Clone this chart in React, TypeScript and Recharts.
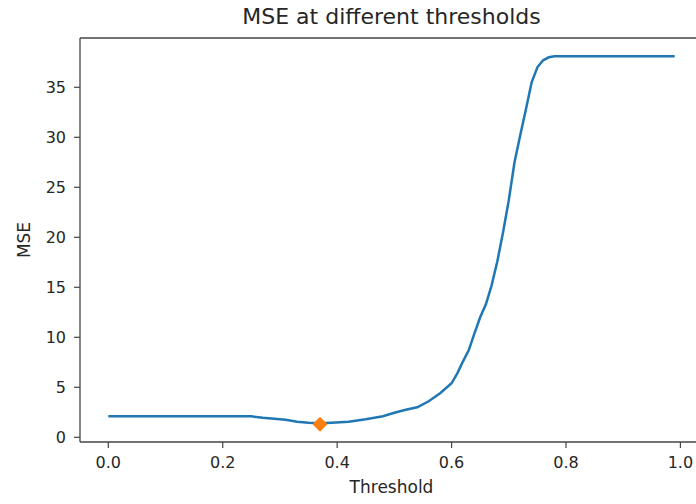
import React from 'react';
import { ComposedChart, Line, Scatter, XAxis, YAxis, ReferenceLine } from 'recharts';

// threshold values and the MSE
const THRESHOLDS = [
  0.0, 0.25, 0.27, 0.3, 0.31, 0.33, 0.35, 0.37, 0.39, 0.42, 0.45, 0.48, 0.5, 0.52, 0.54, 0.56,
  0.58, 0.6, 0.61, 0.62, 0.63, 0.64, 0.65, 0.66, 0.67, 0.68, 0.69, 0.7, 0.71, 0.72, 0.73, 0.74,
  0.75, 0.76, 0.77, 0.78, 0.99,
];
const MSE_VALUES = [
  2.1, 2.1, 1.95, 1.8, 1.75, 1.55, 1.45, 1.4, 1.45, 1.55, 1.8, 2.1, 2.45, 2.75, 3.0, 3.6,
  4.4, 5.4, 6.4, 7.6, 8.7, 10.4, 12.0, 13.3, 15.2, 17.6, 20.5, 23.7, 27.5, 30.2, 32.8, 35.5,
  37.0, 37.7, 38.0, 38.1, 38.1,
];

const BEST_THRESHOLD = 0.37;
const BEST_MSE = 1.3;

const X_TICKS = [0, 0.2, 0.4, 0.6, 0.8, 1.0];
const Y_TICKS = [0, 5, 10, 15, 20, 25, 30, 35];

const X_DOMAIN = [-0.0495, 1.0395];
const Y_DOMAIN = [-0.47, 39.93];

const curve = THRESHOLDS.map((t, i) => ({ t, mse: MSE_VALUES[i] }));
const best = [{ t: BEST_THRESHOLD, mse: BEST_MSE }];

const FONT = '"DejaVu Sans", sans-serif';
const SPINE = '#444';
const TEXT = '#262626';

const Diamond = (props: any) => {
  const { cx, cy } = props;
  const r = 7.5;
  return (
    <polygon
      points={`${cx},${cy - r} ${cx + r},${cy} ${cx},${cy + r} ${cx - r},${cy}`}
      fill="#ff7f0e"
    />
  );
};

const App = () => {
  return (
    <div
      style={{
        position: 'absolute',
        left: 0,
        top: 0,
        width: 696,
        height: 504,
        overflow: 'hidden',
        background: '#fff',
        fontFamily: FONT,
      }}
    >
      {/* title */}
      <div
        style={{
          position: 'absolute',
          left: 80,
          width: 623,
          top: 4,
          textAlign: 'center',
          fontSize: 22,
          color: TEXT,
          whiteSpace: 'nowrap',
        }}
      >
        MSE at different thresholds
      </div>

      <ComposedChart
        width={720}
        height={504}
        data={curve}
        margin={{ top: 38, right: 17, bottom: 0, left: 0 }}
      >
        <XAxis
          dataKey="t"
          type="number"
          domain={X_DOMAIN}
          allowDataOverflow
          ticks={X_TICKS}
          tickFormatter={(v: number) => v.toFixed(1)}
          height={62}
          tickSize={6}
          tickMargin={9}
          axisLine={{ stroke: SPINE, strokeWidth: 1.3 }}
          tickLine={{ stroke: SPINE, strokeWidth: 1.2 }}
          tick={{ fill: TEXT, fontSize: 16, fontFamily: FONT }}
        />
        <YAxis
          type="number"
          domain={Y_DOMAIN}
          allowDataOverflow
          ticks={Y_TICKS}
          width={80}
          tickSize={6}
          tickMargin={8}
          axisLine={{ stroke: SPINE, strokeWidth: 1.3 }}
          tickLine={{ stroke: SPINE, strokeWidth: 1.2 }}
          tick={{ fill: TEXT, fontSize: 16, fontFamily: FONT }}
        />
        {/* top spine */}
        <ReferenceLine y={Y_DOMAIN[1]} stroke={SPINE} strokeWidth={1.3} ifOverflow="visible" />
        <Line
          type="linear"
          dataKey="mse"
          stroke="#1f77b4"
          strokeWidth={2.5}
          dot={false}
          activeDot={false}
          isAnimationActive={false}
        />
        <Scatter
          data={best}
          dataKey="mse"
          shape={<Diamond />}
          isAnimationActive={false}
        />
      </ComposedChart>

      {/* axis labels */}
      <div
        style={{
          position: 'absolute',
          left: 80,
          width: 623,
          top: 477,
          textAlign: 'center',
          fontSize: 17,
          color: TEXT,
        }}
      >
        Threshold
      </div>
      <div
        style={{
          position: 'absolute',
          left: 24,
          top: 240,
          transform: 'translate(-50%, -50%) rotate(-90deg)',
          fontSize: 17,
          color: TEXT,
          whiteSpace: 'nowrap',
        }}
      >
        MSE
      </div>
    </div>
  );
};

export default App;
